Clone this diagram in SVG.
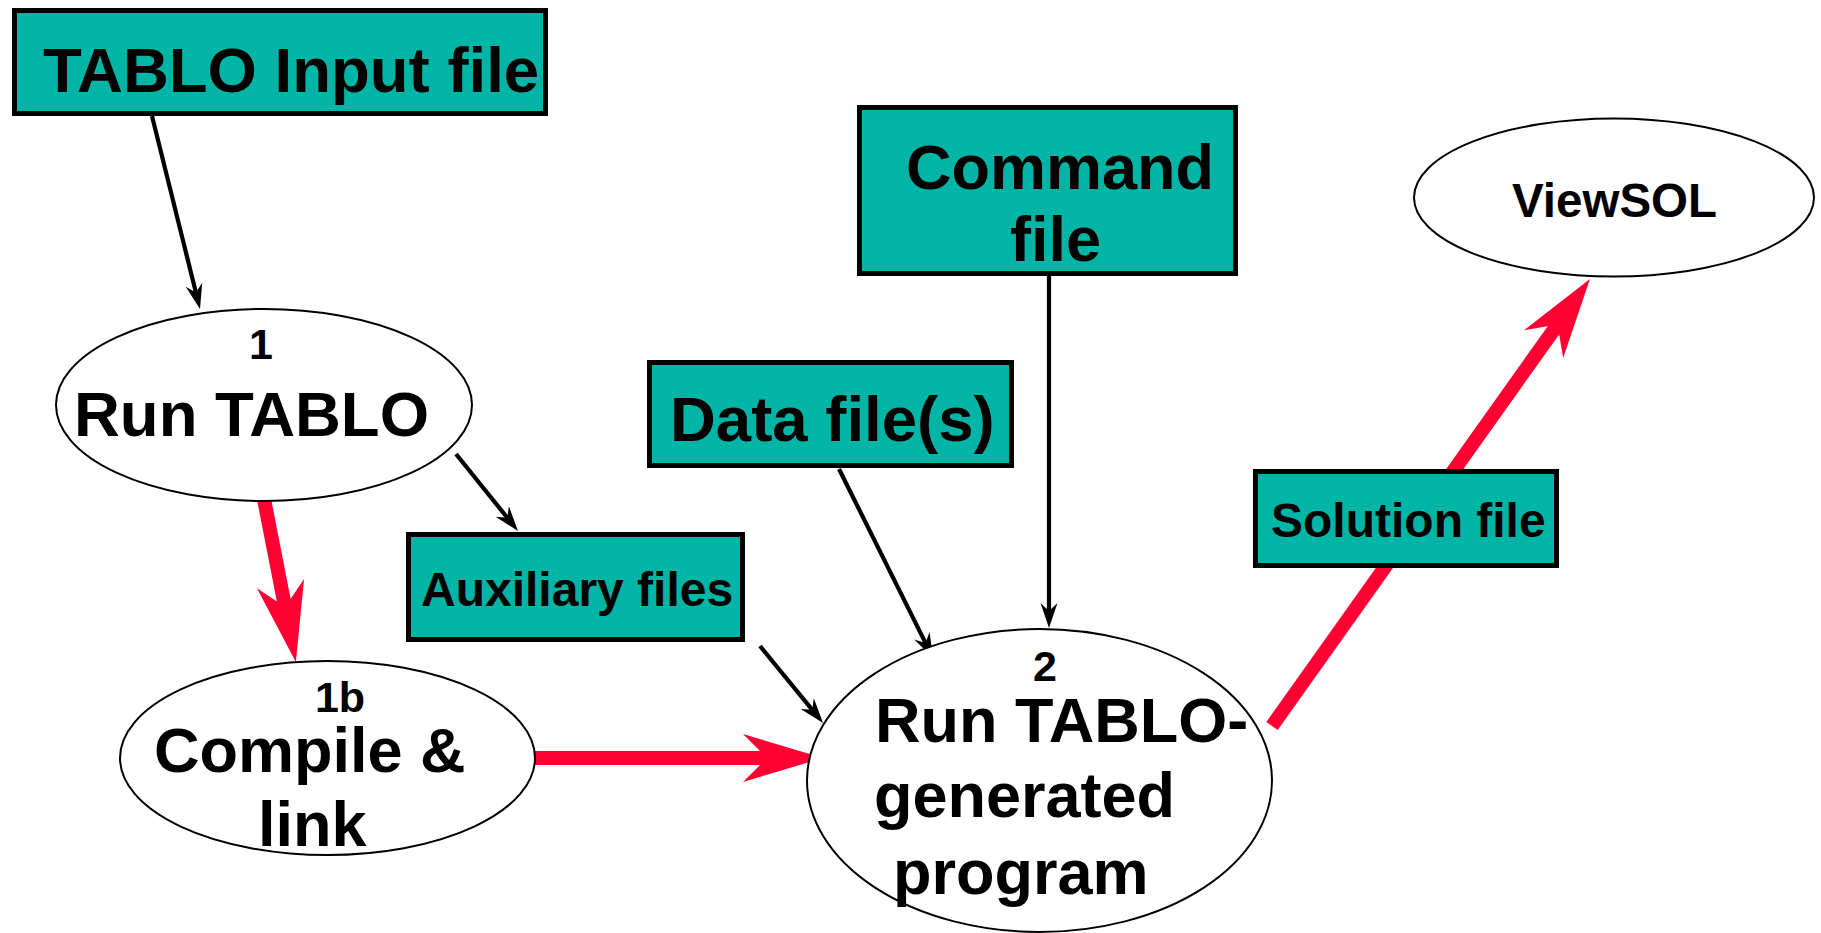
<svg xmlns="http://www.w3.org/2000/svg" width="1821" height="933" viewBox="0 0 1821 933">
<style>
.box{fill:#00B5A6;stroke:#000;stroke-width:5}
.ell{fill:#fff;stroke:#000;stroke-width:2}
.t{font-family:"Liberation Sans",Arial,sans-serif;font-weight:bold;fill:#000}
.big{font-size:63px}
.mid{font-size:48px}
.num{font-size:43px}
.blk{stroke:#000;stroke-width:4.2;fill:none;marker-end:url(#ah)}
.red{stroke:#FF0033;stroke-width:14;fill:none;stroke-linecap:butt;marker-end:url(#rh)}
</style>
<defs>
<marker id="ah" markerUnits="userSpaceOnUse" viewBox="-10 -10 40 20" markerWidth="40" markerHeight="20" refX="0" refY="0" orient="auto" overflow="visible">
<path d="M17,0 L-8,-8.5 L0,0 L-8,8.5 Z" fill="#000"/>
</marker>
<marker id="rh" markerUnits="userSpaceOnUse" viewBox="-30 -30 100 60" markerWidth="100" markerHeight="60" refX="0" refY="0" orient="auto" overflow="visible">
<path d="M56,0 L-24,-24 L0,0 L-24,24 Z" fill="#FF0033"/>
</marker>
</defs>
<g id="connectors">
<path class="blk" d="M152,116 L195.9,292.5"/>
<path class="blk" d="M456,454 L507.3,517.7"/>
<path class="blk" d="M760,646 L812.3,709.8"/>
<path class="blk" d="M839,469 L925.5,642.9"/>
<path class="blk" d="M1049,276 L1049,611"/>
<path class="red" d="M263,494 L285.1,607.1"/>
<path class="red" d="M528,758 L767,758"/>
<path class="red" d="M1272,726 L1557.5,324.6"/>
</g>
<g id="tablo-input">
<rect class="box" x="14.5" y="10.5" width="531" height="103"/>
<text class="t" x="43" y="92" font-size="63.5">TABLO Input file</text>
</g>
<g id="run-tablo">
<ellipse class="ell" cx="264" cy="405" rx="208" ry="96"/>
<text class="t num" x="261" y="359" text-anchor="middle">1</text>
<text class="t" x="74" y="436" font-size="63.5">Run TABLO</text>
</g>
<g id="compile-link">
<ellipse class="ell" cx="327.5" cy="758" rx="207.5" ry="97"/>
<text class="t num" x="340" y="712" text-anchor="middle">1b</text>
<text class="t big" x="154" y="772">Compile &amp;</text>
<text class="t big" x="258" y="846">link</text>
</g>
<g id="auxiliary-files">
<rect class="box" x="408.5" y="534.5" width="334" height="105"/>
<text class="t mid" x="421" y="606">Auxiliary files</text>
</g>
<g id="data-files">
<rect class="box" x="649.5" y="362.5" width="362" height="103"/>
<text class="t" x="670" y="441" font-size="63.5">Data file(s)</text>
</g>
<g id="command-file">
<rect class="box" x="859.5" y="107.5" width="376" height="166"/>
<text class="t big" x="906" y="189">Command</text>
<text class="t big" x="1010" y="261">file</text>
</g>
<g id="viewsol">
<ellipse class="ell" cx="1614" cy="197.5" rx="200" ry="79"/>
<text class="t" x="1512" y="217" font-size="47.5">ViewSOL</text>
</g>
<g id="solution-file">
<rect class="box" x="1255.5" y="471.5" width="301" height="94"/>
<text class="t mid" x="1271" y="537">Solution file</text>
</g>
<g id="run-generated">
<ellipse class="ell" cx="1039.5" cy="780.5" rx="232.5" ry="151.5"/>
<text class="t num" x="1045" y="681" text-anchor="middle">2</text>
<text class="t big" x="875" y="742">Run TABLO-</text>
<text class="t big" x="874" y="817">generated</text>
<text class="t big" x="893" y="894">program</text>
</g>
</svg>
